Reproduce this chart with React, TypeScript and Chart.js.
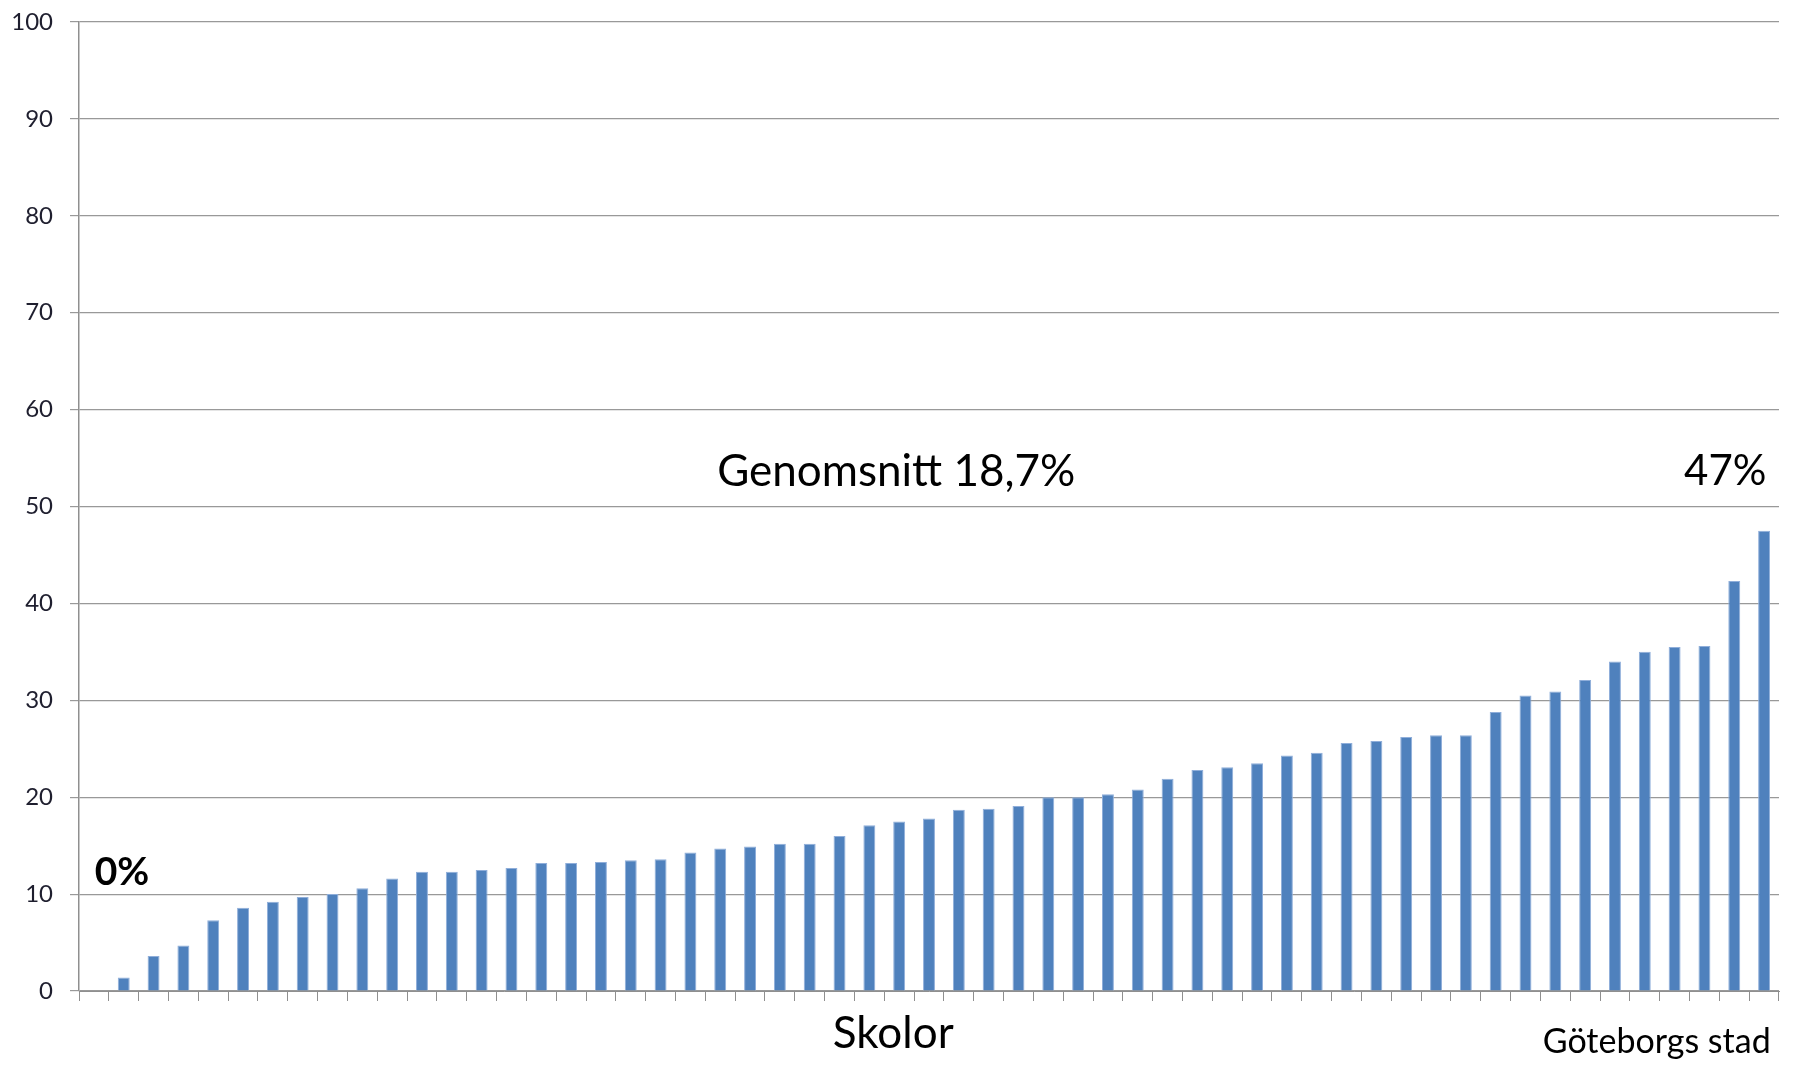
import React, { useEffect, useRef } from "react";
import { Chart, registerables } from "chart.js";

Chart.register(...registerables);

const schools: string[] = Array.from({ length: 57 }, (_, i) => `Skola ${i + 1}`);
const shares: number[] = [
  0, 1.4, 3.6, 4.7, 7.3, 8.6, 9.2, 9.7, 10.0, 10.6,
  11.6, 12.3, 12.3, 12.5, 12.7, 13.2, 13.2, 13.3, 13.5, 13.6,
  14.3, 14.7, 14.9, 15.2, 15.2, 16.0, 17.1, 17.5, 17.8, 18.7,
  18.8, 19.1, 20.0, 20.0, 20.3, 20.8, 21.9, 22.8, 23.1, 23.5,
  24.3, 24.6, 25.6, 25.8, 26.2, 26.4, 26.4, 28.8, 30.5, 30.9,
  32.1, 34.0, 35.0, 35.5, 35.6, 42.3, 47.5,
];
const yTicks: number[] = [0, 10, 20, 30, 40, 50, 60, 70, 80, 90, 100];

const averageLabel = "Genomsnitt 18,7%";
const maxLabel = "47%";
const minLabel = "0%";
const axisLabel = "Skolor";
const sourceLabel = "Göteborgs stad";

const FONT = "Lato, 'Open Sans', sans-serif";

const annotationPlugin = {
  id: "annotations",
  afterDraw(chart: any) {
    const { ctx, scales } = chart;
    const x = scales.x;
    const y = scales.y;
    const px = (i: number) => x.left + ((i + 0.5) * (x.right - x.left)) / schools.length;
    ctx.save();
    ctx.fillStyle = "#000";
    ctx.textBaseline = "middle";
    ctx.textAlign = "center";
    ctx.font = `44px ${FONT}`;
    ctx.fillText(averageLabel, px(26.9), y.getPixelForValue(53.6));
    ctx.fillText(axisLabel, px(26.8), y.getPixelForValue(-4.4));
    ctx.font = `42px ${FONT}`;
    ctx.fillText(maxLabel, px(54.7), y.getPixelForValue(53.6));
    ctx.font = `bold 39px ${FONT}`;
    ctx.fillText(minLabel, px(0.94), y.getPixelForValue(12.2));
    ctx.font = `34px ${FONT}`;
    ctx.fillText(sourceLabel, px(52.4), y.getPixelForValue(-5.3));
    ctx.restore();
  },
};

export default function App() {
  const ref = useRef<HTMLCanvasElement | null>(null);
  useEffect(() => {
    if (!ref.current) return;
    const chart = new Chart(ref.current, {
      type: "bar",
      data: {
        labels: schools,
        datasets: [
          {
            data: shares,
            backgroundColor: "#4F81BD",
            borderColor: "#8FAEDA",
            borderWidth: { left: 1, right: 1, top: 1, bottom: 0 },
            categoryPercentage: 1,
            barPercentage: 0.4,
          },
        ],
      },
      options: {
        animation: false,
        responsive: false,
        maintainAspectRatio: false,
        layout: { padding: { top: 22, right: 18, left: 0, bottom: 0 } },
        plugins: { legend: { display: false }, tooltip: { enabled: false } },
        scales: {
          x: {
            offset: true,
            grid: {
              display: true,
              drawOnChartArea: false,
              drawTicks: true,
              tickLength: 10,
              color: "#8f8f8f",
              offset: true,
            },
            border: { display: true, color: "#8f8f8f", width: 1 },
            ticks: { display: false },
            afterFit(scale: any) {
              scale.height = 75;
              scale.paddingLeft = 0;
              scale.paddingRight = 0;
            },
          },
          y: {
            min: 0,
            max: 100,
            afterBuildTicks(scale: any) {
              scale.ticks = yTicks.map((v) => ({ value: v }));
            },
            grid: { color: "#999", lineWidth: 1.2, tickLength: 9 },
            border: { display: true, color: "#8f8f8f", width: 1.5 },
            ticks: {
              color: "#1e1e2e",
              padding: 17,
              font: { family: FONT, size: 24 },
            },
            afterFit(scale: any) {
              scale.width = 79;
              scale.paddingTop = 0;
              scale.paddingBottom = 0;
            },
          },
        },
      },
      plugins: [annotationPlugin],
    });
    return () => chart.destroy();
  }, []);
  return (
    <div style={{ position: "fixed", left: 0, top: 0, width: 1797, height: 1066, background: "#fff" }}>
      <canvas ref={ref} width={1797} height={1066} style={{ width: 1797, height: 1066 }} />
    </div>
  );
}
